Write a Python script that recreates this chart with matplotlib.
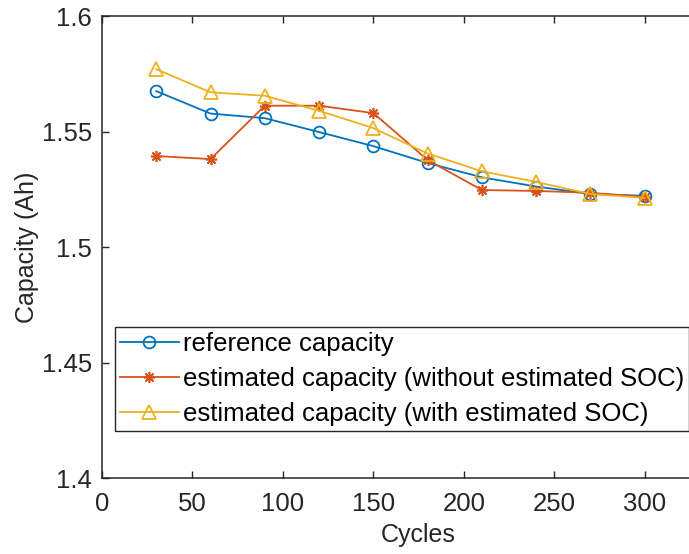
import matplotlib
matplotlib.use('Agg')
import matplotlib.pyplot as plt

plt.rcParams['font.family'] = ['Liberation Sans', 'DejaVu Sans']
plt.rcParams['xtick.direction'] = 'in'
plt.rcParams['ytick.direction'] = 'in'

# cycle numbers and capacities (Ah)
cycles = [30, 60, 90, 120, 150, 180, 210, 240, 270, 300]
ref_cap = [1.5675, 1.5578, 1.5558, 1.5498, 1.5437, 1.5364, 1.5302, 1.5262, 1.5230, 1.5222]
est_no_soc = [1.5394, 1.5381, 1.5612, 1.5612, 1.5580, 1.5377, 1.5247, 1.5243, 1.5235, 1.5217]
est_soc = [1.5770, 1.5670, 1.5655, 1.5590, 1.5515, 1.5405, 1.5328, 1.5282, 1.5230, 1.5213]

labels = ['reference capacity',
          'estimated capacity (without estimated SOC)',
          'estimated capacity (with estimated SOC)']

fig = plt.figure(figsize=(6.89, 5.54), dpi=100)
# axes run past the right edge of the figure, as in the original
ax = fig.add_axes([0.148, 0.137, 0.919, 0.834])

ax.plot(cycles, ref_cap, color='#0072BD', marker='o', markersize=8.5,
        markerfacecolor='none', markeredgewidth=1.3, linewidth=1.3, label=labels[0])
ax.plot(cycles, est_no_soc, color='#D95319', marker=(8, 2, 0), markersize=8,
        markeredgewidth=1.2, linewidth=1.3, label=labels[1])
ax.plot(cycles, est_soc, color='#EDB120', marker='^', markersize=9.5,
        markerfacecolor='none', markeredgewidth=1.3, linewidth=1.3, label=labels[2])

ax.set_xlim(0, 350)
ax.set_ylim(1.4, 1.6)
ax.set_xticks([0, 50, 100, 150, 200, 250, 300])
ax.set_yticks([1.4, 1.45, 1.5, 1.55, 1.6])
ax.set_yticklabels(['1.4', '1.45', '1.5', '1.55', '1.6'])
ax.tick_params(direction='in', labelsize=18.5, colors='#262626', length=5, width=1,
               top=True, right=True)
ax.tick_params(axis='x', pad=10)
ax.tick_params(axis='y', pad=7)
for s in ax.spines.values():
    s.set_color('#262626')
    s.set_linewidth(1.1)

ax.set_xlabel('Cycles', fontsize=18, color='#262626', labelpad=5)
ax.set_ylabel('Capacity (Ah)', fontsize=18, color='#262626', labelpad=2)

leg = ax.legend(loc='upper left', bbox_to_anchor=(0.02, 0.327), fontsize=18.5,
                fancybox=False, framealpha=1, edgecolor='#262626',
                handlelength=2.3, handletextpad=0.15, borderpad=0.2,
                labelspacing=0.42, borderaxespad=0)
leg.get_frame().set_linewidth(1.0)

fig.savefig('out.png', dpi=100)
